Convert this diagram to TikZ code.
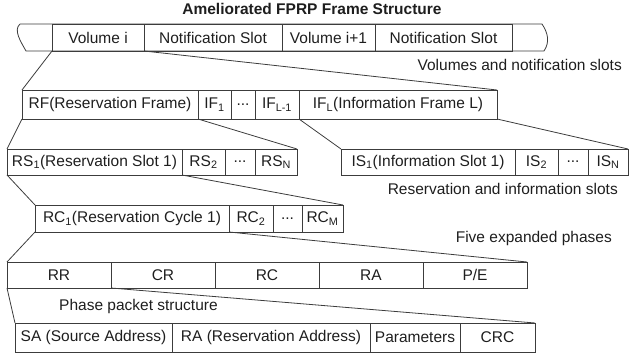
\documentclass[tikz,border=0pt]{standalone}
\usepackage{fontspec}
\setmainfont{Liberation Sans}
\definecolor{linegray}{HTML}{3C3C3C}
\definecolor{textgray}{HTML}{1E1E1E}
% one framed cell of a row: name, left x, right x, top y, bottom y, text
\newcommand\cellnode[6]{%
  \node[cell, minimum width={#3pt-#2pt}, minimum height={#5pt-#4pt}]
    (#1) at ({(#2+#3)/2},{(#4+#5)/2}) {#6};}
\newcommand\sub[1]{\textsubscript{#1}}
\begin{document}
\begin{tikzpicture}[x=1pt,y=-1pt,
  cell/.style={draw=linegray, line width=0.8pt, inner sep=0pt, outer sep=0pt,
    text=textgray, font=\fontsize{15.5}{18}\selectfont},
  zoomline/.style={draw=linegray, line width=0.8pt},
  lbl/.style={text=textgray, font=\fontsize{15.5}{18}\selectfont, inner sep=0pt},
  ttl/.style={text=textgray, font=\bfseries\fontsize{15.5}{18}\selectfont, inner sep=0pt}]
\useasboundingbox (0,0) rectangle (630,363);

% title
\node[ttl] (title) at (312,9) {Ameliorated FPRP Frame Structure};

% frame sequence with torn ends
\draw[zoomline] (20,24) -- (542,24) .. controls (548,33) and (550,42) .. (544,51)
  -- (26,51) .. controls (21,42) and (13,30) .. (20,24);
\cellnode{voli}{52}{144}{24}{51}{Volume i}
\cellnode{nsa}{144}{282}{24}{51}{Notification Slot}
\cellnode{volj}{282}{375}{24}{51}{Volume i+1}
\cellnode{nsb}{375}{512}{24}{51}{Notification Slot}
\node[lbl, anchor=east] (l1) at (622,65) {Volumes and notification slots};

% volume: reservation and information frames
\cellnode{rf}{22}{198}{90}{119}{RF(Reservation Frame)}
\cellnode{ifa}{198}{231}{90}{119}{IF\sub{1}}
\cellnode{ifdots}{231}{255}{90}{119}{...}
\cellnode{ifk}{255}{299}{90}{119}{IF\sub{L-1}}
\cellnode{ifl}{299}{497}{90}{119}{IF\sub{L}(Information Frame L)}

% reservation slots
\cellnode{rsa}{7}{182}{149}{175}{RS\sub{1}(Reservation Slot 1)}
\cellnode{rsb}{182}{225}{149}{175}{RS\sub{2}}
\cellnode{rsdots}{225}{255}{149}{175}{...}
\cellnode{rsn}{255}{297}{149}{175}{RS\sub{N}}

% information slots
\cellnode{isa}{341}{515}{149}{175}{IS\sub{1}(Information Slot 1)}
\cellnode{isb}{515}{558}{149}{175}{IS\sub{2}}
\cellnode{isdots}{558}{588}{149}{175}{...}
\cellnode{isn}{588}{628}{149}{175}{IS\sub{N}}
\node[lbl, anchor=east] (l2) at (618,189) {Reservation and information slots};

% reservation cycles
\cellnode{rca}{35}{229}{205}{232}{RC\sub{1}(Reservation Cycle 1)}
\cellnode{rcb}{229}{273}{205}{232}{RC\sub{2}}
\cellnode{rcdots}{273}{302}{205}{232}{...}
\cellnode{rcm}{302}{343}{205}{232}{RC\sub{M}}
\node[lbl, anchor=east] (l3) at (612,238) {Five expanded phases};

% five phases
\cellnode{rr}{7}{111}{262}{288}{RR}
\cellnode{cr}{111}{215}{262}{288}{CR}
\cellnode{rc}{215}{319}{262}{288}{RC}
\cellnode{ra}{319}{423}{262}{288}{RA}
\cellnode{pe}{423}{527}{262}{288}{P/E}

% phase packet
\node[lbl, anchor=west] (l4) at (59,306) {Phase packet structure};
\cellnode{sa}{15}{172}{323}{352}{SA (Source Address)}
\cellnode{raddr}{172}{370}{323}{352}{RA (Reservation Address)}
\cellnode{par}{370}{460}{323}{352}{Parameters}
\cellnode{crc}{460}{535}{323}{352}{CRC}

% expansion lines
\draw[zoomline] (voli.south west) -- (rf.north west);
\draw[zoomline] (voli.south east) -- (ifl.north east);
\draw[zoomline] (rf.south west) -- (rsa.north west);
\draw[zoomline] (rf.south east) -- (rsn.north east);
\draw[zoomline] (ifl.south west) -- (isa.north west);
\draw[zoomline] (ifl.south east) -- (isn.north east);
\draw[zoomline] (rsa.south west) -- (rca.north west);
\draw[zoomline] (rsa.south east) -- (rcm.north east);
\draw[zoomline] (rca.south west) -- (rr.north west);
\draw[zoomline] (rca.south east) -- (pe.north east);
\draw[zoomline] (rr.south west) -- (sa.north west);
\draw[zoomline] (rr.south east) -- (crc.north east);
\end{tikzpicture}
\end{document}
